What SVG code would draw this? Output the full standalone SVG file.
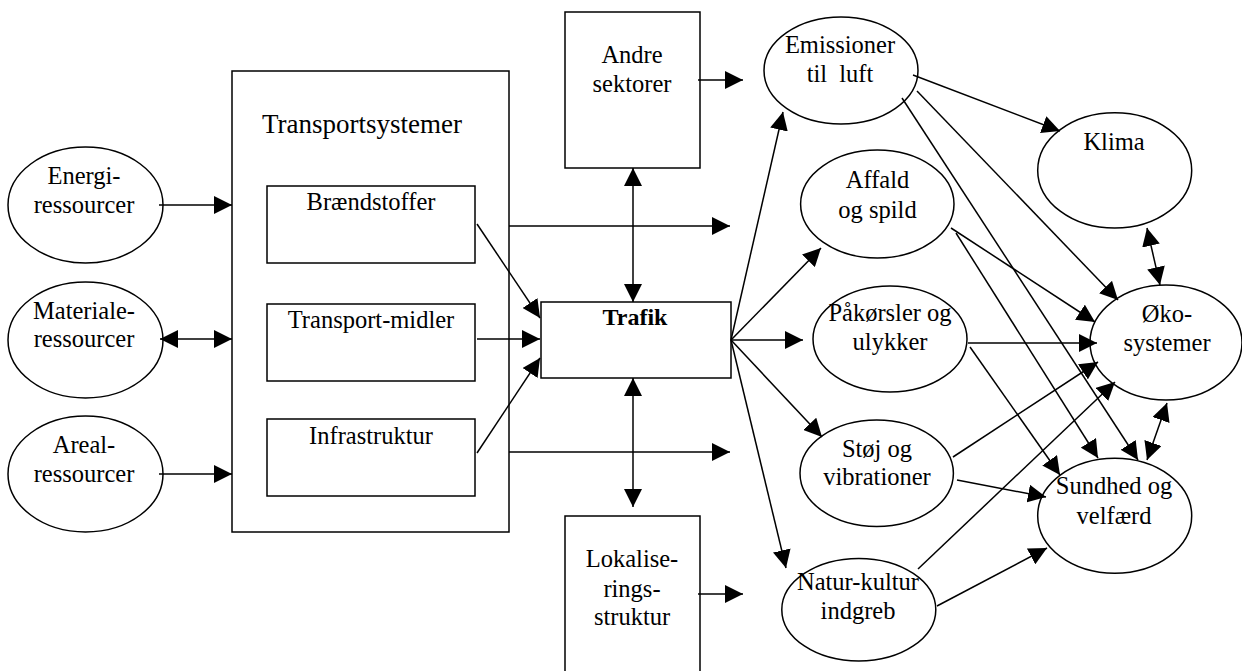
<svg xmlns="http://www.w3.org/2000/svg" width="1242" height="671" viewBox="0 0 1242 671">
<style>
  .shape { fill: #fff; stroke: #000; stroke-width: 1.5; }
  .t { font-family: "Liberation Serif", "Times New Roman", serif; font-size: 24.5px; fill: #000; text-anchor: middle; }
  .title { font-size: 27px; }
  .b { font-weight: bold; font-size: 24px; }
  .c line { stroke: #000; stroke-width: 1.5; marker-end: url(#ah); }
  .c line.d { marker-start: url(#ahs); }
</style>
<defs>
  <marker id="ah" markerUnits="userSpaceOnUse" markerWidth="18" markerHeight="18" refX="18" refY="9" orient="auto">
    <path d="M0,0 L18,9 L0,18 z" fill="#000"/>
  </marker>
  <marker id="ahs" markerUnits="userSpaceOnUse" markerWidth="18" markerHeight="18" refX="18" refY="9" orient="auto-start-reverse">
    <path d="M0,0 L18,9 L0,18 z" fill="#000"/>
  </marker>
</defs>
<rect width="1242" height="671" fill="#fff"/>

<g id="energi">
  <ellipse class="shape" cx="85.5" cy="205" rx="77.5" ry="58"/>
  <text class="t" x="84" y="184">Energi-</text>
  <text class="t" x="84" y="213">ressourcer</text>
</g>
<g id="materiale">
  <ellipse class="shape" cx="85.5" cy="340" rx="77.5" ry="58"/>
  <text class="t" x="84" y="319">Materiale-</text>
  <text class="t" x="84" y="347">ressourcer</text>
</g>
<g id="areal">
  <ellipse class="shape" cx="85.5" cy="474" rx="77.5" ry="58"/>
  <text class="t" x="84" y="453">Areal-</text>
  <text class="t" x="84" y="482">ressourcer</text>
</g>

<g id="transportsystemer">
  <rect class="shape" x="232" y="71" width="277" height="461"/>
  <text class="t title" x="362" y="133">Transportsystemer</text>
</g>
<g id="braendstoffer">
  <rect class="shape" x="267" y="186" width="208" height="77"/>
  <text class="t" x="371" y="210">Brændstoffer</text>
</g>
<g id="transportmidler">
  <rect class="shape" x="267" y="304" width="208" height="77"/>
  <text class="t" x="371" y="328">Transport-midler</text>
</g>
<g id="infrastruktur">
  <rect class="shape" x="267" y="419" width="208" height="77"/>
  <text class="t" x="371" y="444">Infrastruktur</text>
</g>

<g id="andre">
  <rect class="shape" x="565" y="12" width="135" height="156"/>
  <text class="t" x="632" y="63">Andre</text>
  <text class="t" x="632" y="92">sektorer</text>
</g>
<g id="trafik">
  <rect class="shape" x="541" y="302" width="190" height="76"/>
  <text class="t b" x="635" y="325">Trafik</text>
</g>
<g id="lokalisering">
  <rect class="shape" x="565" y="516" width="135" height="170"/>
  <text class="t" x="632" y="567">Lokalise-</text>
  <text class="t" x="632" y="597">rings-</text>
  <text class="t" x="632" y="625">struktur</text>
</g>

<g id="emissioner">
  <ellipse class="shape" cx="841" cy="70.5" rx="77" ry="53.5"/>
  <text class="t" x="840" y="53">Emissioner</text>
  <text class="t" x="840" y="82" xml:space="preserve">til  luft</text>
</g>
<g id="klima">
  <ellipse class="shape" cx="1114.7" cy="170.4" rx="77" ry="57.7"/>
  <text class="t" x="1114" y="150">Klima</text>
</g>
<g id="affald">
  <ellipse class="shape" cx="877.3" cy="204" rx="76.7" ry="54"/>
  <text class="t" x="877.5" y="188">Affald</text>
  <text class="t" x="877.5" y="218">og spild</text>
</g>
<g id="okosystemer">
  <ellipse class="shape" cx="1166" cy="342.5" rx="76" ry="57.5"/>
  <text class="t" x="1167" y="322">Øko-</text>
  <text class="t" x="1167" y="351">systemer</text>
</g>
<g id="pakorsler">
  <ellipse class="shape" cx="890" cy="339" rx="77" ry="53"/>
  <text class="t" x="890" y="321">Påkørsler og</text>
  <text class="t" x="890" y="350">ulykker</text>
</g>
<g id="stoj">
  <ellipse class="shape" cx="876.7" cy="473.3" rx="76.7" ry="53.3"/>
  <text class="t" x="877" y="457">Støj og</text>
  <text class="t" x="877" y="485">vibrationer</text>
</g>
<g id="sundhed">
  <ellipse class="shape" cx="1114.7" cy="515.8" rx="77" ry="57.5"/>
  <text class="t" x="1114" y="494">Sundhed og</text>
  <text class="t" x="1114" y="524">velfærd</text>
</g>
<g id="natur">
  <ellipse class="shape" cx="858.8" cy="609.7" rx="77" ry="51.3"/>
  <text class="t" x="858" y="590">Natur-kultur</text>
  <text class="t" x="858" y="619">indgreb</text>
</g>

<g id="connectors" class="c">
  <line x1="159" y1="205" x2="232" y2="205"/>
  <line class="d" x1="160" y1="339" x2="232" y2="339"/>
  <line x1="159" y1="474" x2="232" y2="474"/>
  <line x1="477" y1="224" x2="540" y2="318"/>
  <line x1="477" y1="339" x2="540" y2="339"/>
  <line x1="477" y1="453" x2="540" y2="358"/>
  <line x1="509" y1="226" x2="730" y2="226"/>
  <line x1="509" y1="452" x2="730" y2="452"/>
  <line class="d" x1="633" y1="168" x2="633" y2="302"/>
  <line class="d" x1="633" y1="378" x2="633" y2="507"/>
  <line x1="698" y1="80" x2="743" y2="80"/>
  <line x1="698" y1="594" x2="743" y2="594"/>
  <line x1="731" y1="340" x2="783" y2="112"/>
  <line x1="731" y1="340" x2="821" y2="248"/>
  <line x1="731" y1="340" x2="803" y2="340"/>
  <line x1="731" y1="340" x2="822" y2="437"/>
  <line x1="731" y1="340" x2="786" y2="568"/>
  <line x1="913" y1="75" x2="1060" y2="131"/>
  <line x1="917" y1="91" x2="1118" y2="300"/>
  <line x1="902" y1="98" x2="1138" y2="460"/>
  <line x1="951" y1="228" x2="1095" y2="322"/>
  <line x1="956" y1="233" x2="1098" y2="458"/>
  <line x1="968" y1="343" x2="1097" y2="343"/>
  <line x1="970" y1="347" x2="1060" y2="475"/>
  <line x1="953" y1="457" x2="1098" y2="362"/>
  <line x1="957" y1="480" x2="1046" y2="497"/>
  <line x1="918" y1="569" x2="1115" y2="382"/>
  <line x1="937" y1="606" x2="1047" y2="548"/>
  <line class="d" x1="1147" y1="228" x2="1160" y2="285"/>
  <line class="d" x1="1167" y1="403" x2="1147" y2="460"/>
</g>
</svg>
